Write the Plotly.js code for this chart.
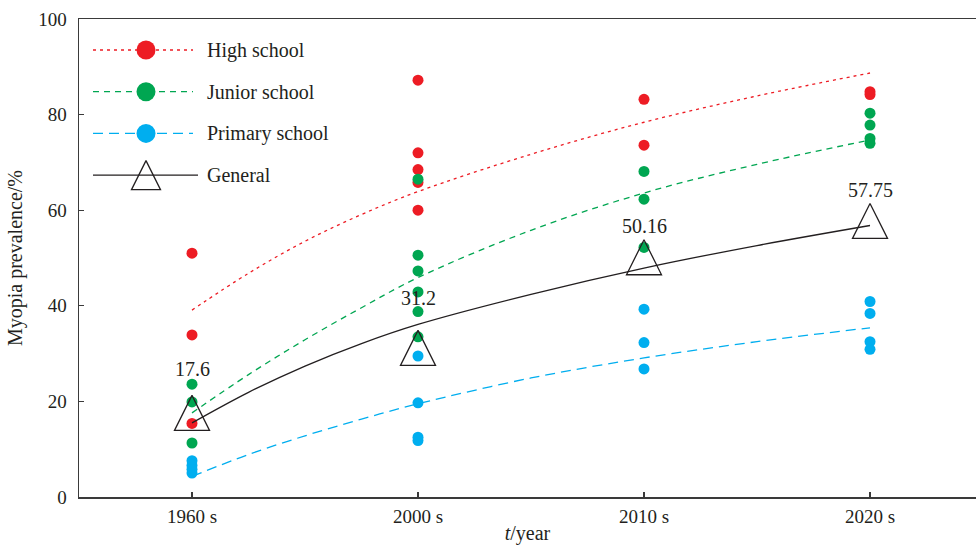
<!DOCTYPE html>
<html>
<head>
<meta charset="utf-8">
<script src="https://cdn.plot.ly/plotly-3.0.1.min.js"></script>
<style>html,body{margin:0;padding:0;background:#fff;}#chart{width:976px;height:545px;}</style>
</head>
<body>
<div id="chart"></div>
<script>
// ---------- data ----------
const categories = ['1960 s', '2000 s', '2010 s', '2020 s'];
const seriesNames = ['High school', 'Junior school', 'Primary school', 'General'];

// observed prevalence (%) per category
const highSchool = [[51.0, 33.9, 15.4], [87.2, 72.0, 68.5, 65.8, 60.0], [83.2, 73.6], [84.8, 84.2]];
const juniorSchool = [[23.6, 19.9, 11.3], [66.5, 50.6, 47.3, 42.9, 38.8, 33.5], [68.1, 62.3, 52.2], [80.3, 77.8, 75.0, 74.0]];
const primarySchool = [[7.6, 6.6, 5.8, 5.0], [29.5, 19.7, 12.5, 11.8], [39.3, 32.3, 26.8], [40.9, 38.4, 32.5, 30.9]];
const general = [17.6, 31.2, 50.16, 57.75];
const generalLabels = ['17.6', '31.2', '50.16', '57.75'];

// fitted trend curves
const curvePos = [0, 0.25, 0.5, 0.75, 1, 1.5, 2, 2.5, 3];
const highFit = [39.1, 46.8, 53.5, 59.1, 63.9, 71.7, 78.4, 83.9, 88.7];
const juniorFit = [17.6, 25.6, 32.9, 39.6, 45.9, 55.8, 63.6, 69.6, 74.7];
const primaryFit = [4.3, 8.9, 12.8, 16.3, 19.5, 24.9, 29.1, 32.5, 35.4];
const generalFit = [15.5, 21.9, 27.4, 32.1, 36.1, 42.4, 47.9, 52.6, 56.8];

// ---------- styles ----------
const RED = '#ED1C24', GREEN = '#00A651', BLUE = '#00AEEF', BLACK = '#231F20';
const FONT = '"Liberation Serif", "Times New Roman", serif';

function flatten(groups) {
  const xs = [], ys = [];
  groups.forEach((g, i) => g.forEach(v => { xs.push(i); ys.push(v); }));
  return {x: xs, y: ys};
}

const traces = [];
const dotSeries = [[highSchool, RED], [juniorSchool, GREEN], [primarySchool, BLUE]];
dotSeries.forEach(([grp, col]) => {
  const f = flatten(grp);
  traces.push({x: f.x, y: f.y, type: 'scatter', mode: 'markers', showlegend: false,
    marker: {color: col, size: 11}, hoverinfo: 'skip'});
});

const fitSeries = [[highFit, RED, '3px,4px'], [juniorFit, GREEN, '6px,5px'], [primaryFit, BLUE, '10px,6px'], [generalFit, BLACK, 'solid']];
fitSeries.forEach(([ys, col, dash]) => {
  traces.push({x: curvePos, y: ys, type: 'scatter', mode: 'lines', showlegend: false,
    line: {color: col, width: 1.3, dash: dash, shape: 'spline', smoothing: 1}, hoverinfo: 'skip'});
});

const TRI = 35;
traces.push({x: categories.map((c, i) => i), y: general, type: 'scatter', mode: 'markers', showlegend: false,
  marker: {symbol: 'arrow-down-open', angle: 180, standoff: TRI / 2, size: TRI, color: BLACK, line: {width: 1.3, color: BLACK}},
  hoverinfo: 'skip'});

// ---------- custom legend (on pixel-unit helper axes) ----------
const PW = 897, PH = 478;
const legendStyles = [
  {color: RED, dash: '3px,4px', symbol: 'circle', size: 19},
  {color: GREEN, dash: '6px,5px', symbol: 'circle', size: 19},
  {color: BLUE, dash: '10px,6px', symbol: 'circle', size: 19},
  {color: BLACK, dash: 'solid', symbol: 'arrow-down-open', size: 29}
];
const annotations = [];
seriesNames.forEach((name, i) => {
  const st = legendStyles[i];
  const yy = 31 + i * 41.7;
  const x1 = i === 3 ? 119 : 114;
  traces.push({x: [14, x1], y: [yy, yy], xaxis: 'x2', yaxis: 'y2', type: 'scatter', mode: 'lines',
    showlegend: false, hoverinfo: 'skip', line: {color: st.color, width: 1.3, dash: st.dash}});
  const mk = {symbol: st.symbol, size: st.size, color: st.color};
  if (st.symbol === 'arrow-down-open') { mk.angle = 180; mk.standoff = st.size / 2; mk.line = {width: 1.3, color: BLACK}; }
  traces.push({x: [67], y: [yy], xaxis: 'x2', yaxis: 'y2', type: 'scatter', mode: 'markers',
    showlegend: false, hoverinfo: 'skip', marker: mk});
  annotations.push({xref: 'x2', yref: 'y2', x: 126, y: yy, text: name, showarrow: false,
    xanchor: 'left', yanchor: 'middle', font: {family: FONT, size: 20, color: BLACK}});
});

const labelShift = [44, 50, 31, 31];
general.forEach((v, i) => {
  annotations.push({x: i, y: v, xref: 'x', yref: 'y', text: generalLabels[i], showarrow: false,
    yshift: labelShift[i], xanchor: 'center', yanchor: 'middle', font: {family: FONT, size: 20, color: BLACK}});
});

const layout = {
  width: 976, height: 545,
  margin: {l: 79, r: 0, t: 19, b: 48},
  paper_bgcolor: '#fff', plot_bgcolor: '#fff',
  font: {family: FONT, color: BLACK, size: 19},
  showlegend: false,
  xaxis: {
    range: [-0.5, 3.469], tickvals: [0, 1, 2, 3], ticktext: categories,
    showgrid: false, zeroline: false, showline: true, linecolor: '#3a3a3a', linewidth: 1.5,
    mirror: true, ticks: 'inside', ticklen: 5, tickcolor: '#3a3a3a', tickwidth: 1.2,
    ticklabelstandoff: 2, tickfont: {family: FONT, size: 19, color: BLACK},
    title: {text: '<i>t</i>/year', font: {family: FONT, size: 20, color: BLACK}, standoff: 4},
    fixedrange: true
  },
  yaxis: {
    range: [0, 100], tickvals: [0, 20, 40, 60, 80, 100],
    showgrid: false, zeroline: false, showline: true, linecolor: '#3a3a3a', linewidth: 1.5,
    ticks: 'inside', ticklen: 5, tickcolor: '#3a3a3a', tickwidth: 1.2,
    ticklabelstandoff: 7, tickfont: {family: FONT, size: 19, color: BLACK},
    title: {text: 'Myopia prevalence/%', font: {family: FONT, size: 20, color: BLACK}, standoff: 10},
    fixedrange: true
  },
  xaxis2: {domain: [0, 1], range: [0, PW], visible: false, anchor: 'y2', overlaying: 'x', fixedrange: true},
  yaxis2: {domain: [0, 1], range: [PH, 0], visible: false, anchor: 'x2', overlaying: 'y', fixedrange: true},
  annotations: annotations
};

Plotly.newPlot('chart', traces, layout, {staticPlot: true, displayModeBar: false});
</script>
</body>
</html>
